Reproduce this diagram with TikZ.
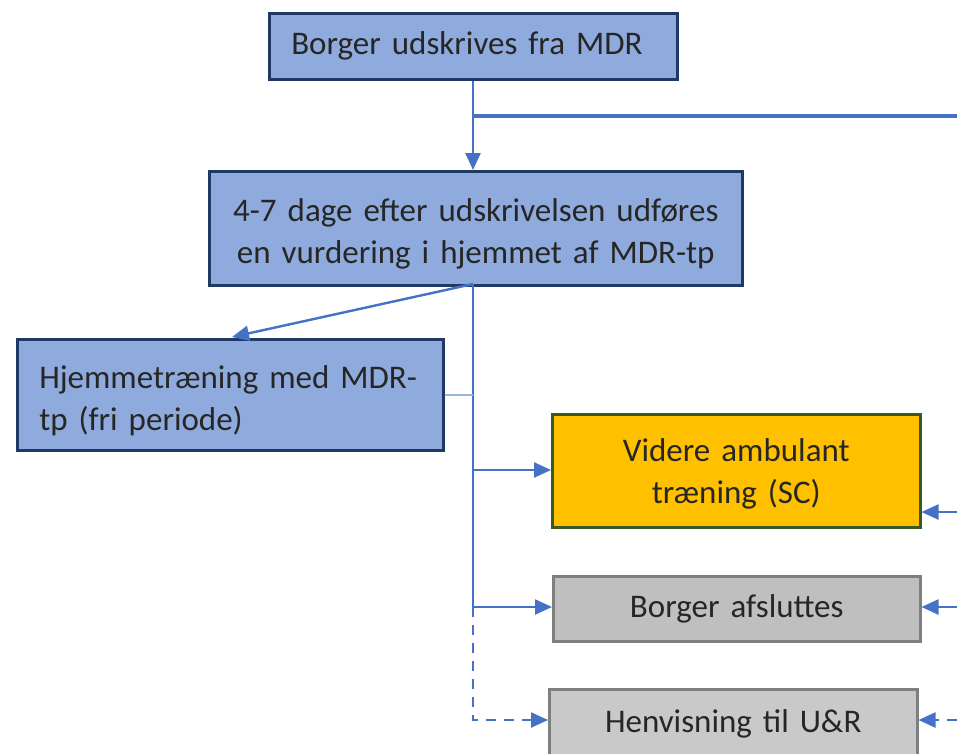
\documentclass[tikz,border=0pt]{standalone}
\usepackage{fontspec}
\setmainfont{Carlito}
\usetikzlibrary{arrows.meta}
\definecolor{bfill}{HTML}{8FAADC}
\definecolor{bline}{HTML}{203864}
\definecolor{ofill}{HTML}{FFC000}
\definecolor{oline}{HTML}{3A5A24}
\definecolor{gfill}{HTML}{BFBFBF}
\definecolor{gfilltwo}{HTML}{C9C9C9}
\definecolor{gline}{HTML}{7F7F7F}
\definecolor{conn}{HTML}{4472C4}
\definecolor{thinconn}{HTML}{9DB5E0}
\begin{document}
\begin{tikzpicture}[x=1pt,y=-1pt,
  txt/.style={font=\fontsize{33}{42}\selectfont, text=black!85},
  bluebox/.style={txt, draw=bline, fill=bfill, line width=2.5pt, inner ysep=0pt, anchor=north west},
  orangebox/.style={txt, draw=oline, fill=ofill, line width=2.5pt, inner ysep=0pt, anchor=north west},
  graybox/.style={txt, draw=gline, fill=gfill, line width=2.5pt, inner ysep=0pt, anchor=north west},
  conline/.style={draw=conn, line width=2.4pt},
  tip/.style={-{Triangle[length=17pt,width=15pt]}},
  dashline/.style={dash pattern=on 10pt off 8pt}
]
\useasboundingbox (0,0) rectangle (957,753);
\fill[white] (0,0) rectangle (957,753);

\node[bluebox, inner xsep=22pt, text width=364pt, minimum height=66pt, align=left] (top) at (268,12) {Borger udskrives fra MDR};
\node[bluebox, inner xsep=10pt, text width=513pt, minimum height=114pt, align=center] (eval) at (208,170) {\rule{0pt}{34pt}4-7 dage efter udskrivelsen udføres\\en vurdering i hjemmet af MDR-tp};
\node[bluebox, inner xsep=22pt, text width=382pt, minimum height=111pt, align=left] (home) at (16,338) {\rule{0pt}{34pt}Hjemmetræning med MDR-\\tp (fri periode)};
\node[orangebox, inner xsep=10pt, text width=348pt, minimum height=113pt, align=center] (amb) at (551,413) {\rule{0pt}{30pt}Videre ambulant\\træning (SC)};
\node[graybox, inner xsep=10pt, text width=347pt, minimum height=65pt, align=center] (end) at (552,575) {Borger afsluttes};
\node[graybox, fill=gfilltwo, inner xsep=10pt, text width=348pt, minimum height=80pt, align=center, text height=43pt, text depth=37pt] (ref) at (548,688) {Henvisning til U\&R};

\coordinate (branch) at (473,116);
\coordinate (rtop) at (957,116);
\coordinate (split) at (473,284);
\coordinate (jhome) at (473,395);
\coordinate (jamb) at (473,470);
\coordinate (jend) at (473,607);
\coordinate (jref) at (473,720);
\coordinate (ramb) at (957,512);
\coordinate (rend) at (957,607);
\coordinate (rref) at (957,720);

% top box to evaluation
\draw[conline, tip] (top.south -| branch) -- (eval.north -| branch);
\draw[draw=conn, line width=3.2pt] (branch) -- (rtop);

% evaluation to home
\draw[conline, tip] (split) -- (232,337);
% vertical trunk
\draw[conline] (split) -- (jend);
\draw[conline, dashline] (jend) -- (jref) -- ([xshift=-1pt]jref -| ref.west);
\draw[conline, tip] (jref) ++(60,0) -- (jref -| ref.west);
\draw[conline, tip] (jamb) -- (jamb -| amb.west);
\draw[conline, tip] (jend) -- (jend -| end.west);
% thin link from home box
\draw[draw=thinconn, line width=1.2pt] (jhome -| home.east) -- (jhome);

% arrows from the right edge
\draw[conline, tip] (ramb) -- (ramb -| amb.east);
\draw[conline, tip] (rend) -- (rend -| end.east);
\draw[conline, dashline] (rref) -- ([xshift=15pt]rref -| ref.east);
\draw[conline, tip] ([xshift=18pt]rref -| ref.east) -- (rref -| ref.east);
\end{tikzpicture}
\end{document}
